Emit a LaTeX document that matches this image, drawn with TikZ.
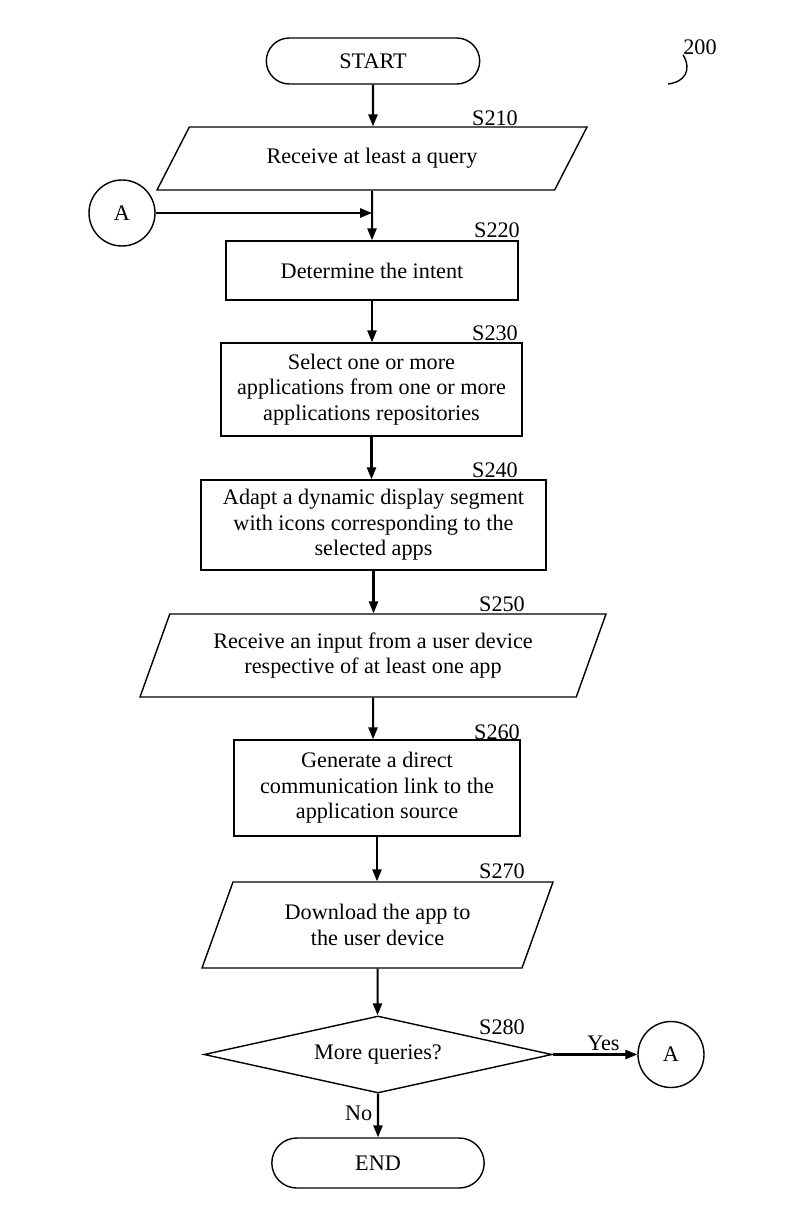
\documentclass[tikz,border=0pt]{standalone}
\usepackage{fontspec}
\setmainfont{Liberation Serif}
\usepackage{tikz}
\usetikzlibrary{arrows.meta, shapes.geometric, shapes.misc, positioning, calc}

\begin{document}
\begin{tikzpicture}[
	font=\fontsize{15.8}{18.2}\selectfont,
	box/.style={draw,line width=1pt,align=center,inner sep=2pt},
	process/.style={box,rectangle},
	io/.style={box,trapezium,trapezium stretches body,trapezium left angle=#1,trapezium right angle=180-#1},
	terminal/.style={box,rounded rectangle},
	decision/.style={box,diamond,aspect=4.5},
	connector/.style={box,circle,minimum size=1.65cm,inner sep=0pt},
	steplabel/.style={inner sep=0pt},
	flow/.style={draw,line width=1.45pt,-{Triangle[length=3mm,width=2.3mm]}}]
	\useasboundingbox (0,0) rectangle (20,-30.6);

	% flowchart nodes
	\node (start) at (9.325,-1.525) [terminal,minimum width=5.475cm,minimum height=1.15cm] {START};
	\node (s210) at (9.3,-3.9625) [io=38.6,minimum width=10.75cm,minimum height=1.575cm] {Receive at least a query};
	\node (a1) at (3.05,-5.325) [connector] {A};
	\node (s220) at (9.3,-6.7625) [process,minimum width=7.3cm,minimum height=1.475cm] {Determine the intent};
	\node (s230) at (9.2875,-9.7375) [process,minimum width=7.525cm,minimum height=2.325cm] {Select one or more\\applications from one or more\\applications repositories};
	\node (s240) at (9.3375,-13.125) [process,minimum width=8.625cm,minimum height=2.25cm] {Adapt a dynamic display segment\\with icons corresponding to the\\selected apps};
	\node (s250) at (9.325,-16.3875) [io=60,minimum width=11.65cm,minimum height=2.075cm] {Receive an input from a user device\\respective of at least one app};
	\node (s260) at (9.425,-19.7) [process,minimum width=7.15cm,minimum height=2.4cm] {Generate a direct\\communication link to the\\application source};
	\node (s270) at (9.4375,-23.125) [io=56.5,minimum width=8.775cm,minimum height=2.15cm] {Download the app to\\the user device};
	\node (s280) at (9.45,-26.3625) [decision,minimum width=8.7cm,minimum height=1.925cm] {More queries?};
	\node (a2) at (16.775,-26.3625) [connector] {A};
	\node (end) at (9.45,-29.075) [terminal,minimum width=5.45cm,minimum height=1.25cm] {END};

	% step labels
	\node (l210) at (12.375,-2.95) [steplabel] {S210};
	\node (l220) at (12.425,-5.75) [steplabel] {S220};
	\node (l230) at (12.375,-8.325) [steplabel] {S230};
	\node (l240) at (12.375,-11.75) [steplabel] {S240};
	\node (l250) at (12.55,-15.1) [steplabel] {S250};
	\node (l260) at (12.425,-18.3) [steplabel] {S260};
	\node (l270) at (12.55,-21.775) [steplabel] {S270};
	\node (l280) at (12.55,-25.675) [steplabel] {S280};
	\node (ref) at (17.5,-1.175) [steplabel] {200};
	\coordinate (reftail) at (16.7,-2.1);
	\draw[line width=1pt] (reftail) .. controls (17.125,-2.05) and (17.3,-1.75) .. (ref.south west);

	% connectors
	\coordinate (join) at (s210.south |- a1.east);
	\path[flow] (start) -- (start.south |- s210.north);
	\path[flow] (s210) -- (s210.south |- s220.north);
	\path[flow] (a1) -- (join);
	\path[flow] (s220) -- (s220.south |- s230.north);
	\path[flow] (s230) -- (s230.south |- s240.north);
	\path[flow] (s240) -- (s240.south |- s250.north);
	\path[flow] (s250) -- (s250.south |- s260.north);
	\path[flow] (s260) -- (s260.south |- s270.north);
	\path[flow] (s270) -- (s270.south |- s280.north);
	\path[flow] (s280) -- node[above,pos=0.6,inner sep=2pt] {Yes} (a2);
	\path[flow] (s280) -- node[left,pos=0.45] {No} (end);
\end{tikzpicture}
\end{document}
